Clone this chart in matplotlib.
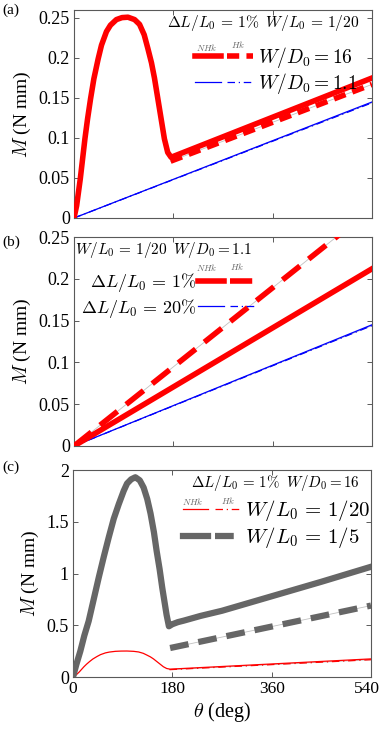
import numpy as np
import matplotlib
matplotlib.use('Agg')
import matplotlib.pyplot as plt
import matplotlib.transforms as mtransforms
from matplotlib.legend_handler import HandlerTuple

plt.rcParams['font.family'] = ['Liberation Serif', 'DejaVu Serif']
plt.rcParams['mathtext.fontset'] = 'cm'

# ---- data ----
# thin strip, W/L0 = 1/20, W/D0 = 16, dL/L0 = 1%  (NHk)
th_a16 = [0, 4.8, 11.4, 15.6, 19.8, 24.6, 30, 36, 43.8, 49.8, 58.8, 66, 76.8, 87, 97.8,
          109.8, 118.8, 127.2, 133.8, 140.4, 145.8, 154.8, 163.8, 169.8, 175.8, 180, 540]
m_a16 = [0, 0.0155, 0.049, 0.074, 0.099, 0.124, 0.149, 0.174, 0.199, 0.216, 0.233, 0.241,
         0.248, 0.2505, 0.251, 0.248, 0.242, 0.229, 0.212, 0.194, 0.175, 0.137, 0.099,
         0.082, 0.076, 0.077, 0.175]
# Hk branch (after snap-through)
th_a16_hk = [175, 540]
m_a16_hk = [0.071, 0.167]
# W/D0 = 1.1 (NHk and Hk coincide)
th_a11 = [0, 540]
m_a11 = [0, 0.145]
m_a11_hk = [0, 0.144]

# panel (b): W/L0 = 1/20, W/D0 = 1.1
th_b = [0, 540]
m_b1 = [0, 0.212]
m_b1_hk = [0, 0.284]
m_b20 = [0, 0.145]
m_b20_hk = [0, 0.144]

# panel (c): W/L0 = 1/5, W/D0 = 16
th_c5 = [0, 6, 13.3, 20.5, 28.4, 37.5, 46.6, 55.7, 64.8, 73.9, 82.9, 92, 98, 105.4, 113,
         121, 128, 134.5, 140.5, 146.6, 151.5, 157, 161.8, 166, 169.6, 173.8, 180, 190,
         201, 231, 270, 360, 450, 540]
m_c5 = [0, 0.12, 0.25, 0.40, 0.54, 0.75, 0.96, 1.16, 1.35, 1.53, 1.67, 1.80, 1.87, 1.91,
        1.93, 1.90, 1.83, 1.72, 1.58, 1.40, 1.22, 1.04, 0.86, 0.72, 0.60, 0.49, 0.51,
        0.53, 0.545, 0.59, 0.64, 0.78, 0.92, 1.065]
th_c5_hk = [176, 540]
m_c5_hk = [0.28, 0.69]

xticks = [0, 180, 360, 540]

red = '#ff0000'
blue = '#0000ff'
gray = '#666666'
light = '#c0c0c0'

fig = plt.figure(figsize=(3.82, 7.29), dpi=100)
W, H = 382, 729


def make_ax(left, right, top, bottom):
    ax = fig.add_axes([left / W, 1 - bottom / H, (right - left) / W, (bottom - top) / H])
    ax.set_xlim(0, 540)
    ax.set_xticks(xticks)
    ax.tick_params(direction='in', top=True, right=True, length=3.5, width=0.6,
                   labelsize=13, colors='0.25', labelcolor='k', pad=3)
    ax.tick_params(axis='x', labelsize=12.5)
    for s in ax.spines.values():
        s.set_color('0.35')
        s.set_linewidth(0.8)
    ax.set_ylabel('$M$ (N mm)', fontsize=14, labelpad=4)
    return ax


def hk_line(ax, x, y, color, lw, ls):
    ax.plot(x, y, color=light, lw=0.6, zorder=2)
    return ax.plot(x, y, color=color, lw=lw, ls=ls, zorder=3)[0]


def tags(ax, x1, y1, x2, y2):
    ax.text(x1, y1, '$NHk$', transform=ax.transAxes, fontsize=6.5, color='0.4', ha='center', va='center')
    ax.text(x2, y2, '$Hk$', transform=ax.transAxes, fontsize=6.5, color='0.4', ha='center', va='center')


# ---------------- (a) ----------------
ax = make_ax(74, 372, 10, 218)
ax.set_ylim(0, 0.26)
ax.set_yticks([0, 0.05, 0.1, 0.15, 0.2, 0.25])
ax.set_yticklabels(['0', '0.05', '0.1', '0.15', '0.2', '0.25'])
ax.set_xticklabels([])
b1, = ax.plot(th_a11, m_a11, color=blue, lw=0.9, zorder=3)
b2 = hk_line(ax, th_a11, m_a11_hk, blue, 0.9, (0, (6, 3, 1, 3)))
r1, = ax.plot(th_a16, m_a16, color=red, lw=4, zorder=4, solid_joinstyle='round')
r2 = hk_line(ax, th_a16_hk, m_a16_hk, red, 4, (0, (2.2, 1.3)))
ax.text(0.96, 0.937, r'$\Delta L/L_0\,=\,1\%\;\;W/L_0\,=\,1/20$', transform=ax.transAxes,
        fontsize=11.2, ha='right', va='center')
ax.legend([(r1, r2), (b1, b2)], [r'$W/D_0 = 16$', r'$W/D_0 = 1.1$'],
          handler_map={tuple: HandlerTuple(ndivide=None, pad=0.3)},
          loc='center left', bbox_to_anchor=(0.406, 0.709), frameon=False,
          fontsize=14, handlelength=3.0, handletextpad=0.25, labelspacing=0.05,
          borderpad=0, borderaxespad=0)
tags(ax, 0.446, 0.822, 0.55, 0.832)

# ---------------- (b) ----------------
ax = make_ax(74, 372, 237, 446)
ax.set_ylim(0, 0.25)
ax.set_yticks([0, 0.05, 0.1, 0.15, 0.2, 0.25])
ax.set_yticklabels(['0', '0.05', '0.1', '0.15', '0.2', '0.25'])
ax.set_xticklabels([])
b1, = ax.plot(th_b, m_b20, color=blue, lw=0.9, zorder=3)
b2 = hk_line(ax, th_b, m_b20_hk, blue, 0.9, (0, (6, 3, 1, 3)))
r1, = ax.plot(th_b, m_b1, color=red, lw=4, zorder=4)
r2 = hk_line(ax, th_b, m_b1_hk, red, 4, (0, (4, 2)))
ax.text(0.005, 0.938, r'$W/L_0\,=\,1/20\;\;W/D_0 = 1.1$', transform=ax.transAxes,
        fontsize=11, ha='left', va='center')
ax.legend([(r1, r2), (b1, b2)], [r'$\Delta L/L_0\,=\,1\%$', r'$\Delta L/L_0\,=\,20\%$'],
          handler_map={tuple: HandlerTuple(ndivide=None, pad=0.3)},
          loc='center left', bbox_to_anchor=(0.022, 0.72), frameon=False, markerfirst=False,
          fontsize=13, handlelength=3.2, handletextpad=0.1, labelspacing=0.12,
          borderpad=0, borderaxespad=0)
tags(ax, 0.445, 0.852, 0.546, 0.858)

# ---------------- (c) ----------------
ax = make_ax(73, 371, 470, 677)
ax.set_ylim(0, 2)
ax.set_yticks([0, 0.5, 1, 1.5, 2])
ax.set_yticklabels(['0', '0.5', '1', '1.5', '2'])
ax.set_xlabel(r'$\theta$ (deg)', fontsize=14.5, labelpad=2)
r1, = ax.plot(th_a16, m_a16, color=red, lw=0.9, zorder=3)
r2 = hk_line(ax, th_a16_hk, m_a16_hk, red, 0.9, (0, (6, 3, 1, 3)))
g1, = ax.plot(th_c5, m_c5, color=gray, lw=4.5, zorder=4, solid_joinstyle='round')
g2 = hk_line(ax, th_c5_hk, m_c5_hk, gray, 4.5, (0, (3, 1.6)))
ax.text(0.963, 0.937, r'$\Delta L/L_0\,=\,1\%\;\;W/D_0 = 16$', transform=ax.transAxes,
        fontsize=10.8, ha='right', va='center')
ax.legend([(r1, r2), (g1, g2)], [r'$W/L_0\,=\,1/20$', r'$W/L_0\,=\,1/5$'],
          handler_map={tuple: HandlerTuple(ndivide=None, pad=0.3)},
          loc='center left', bbox_to_anchor=(0.369, 0.739), frameon=False,
          fontsize=15, handlelength=2.75, handletextpad=0.25, labelspacing=0.1,
          borderpad=0, borderaxespad=0)
tags(ax, 0.403, 0.847, 0.52, 0.852)
# keep the last tick label inside the figure
last = ax.get_xticklabels()[-1]
last.set_horizontalalignment('right')
last.set_transform(last.get_transform() + mtransforms.ScaledTranslation(9 / 100, 0, fig.dpi_scale_trans))

fig.text(2 / W, 1 - 10 / H, '(a)', fontsize=11, va='center', ha='left')
fig.text(2 / W, 1 - 242 / H, '(b)', fontsize=11, va='center', ha='left')
fig.text(2 / W, 1 - 467 / H, '(c)', fontsize=11, va='center', ha='left')

fig.savefig('out.png', dpi=100)
